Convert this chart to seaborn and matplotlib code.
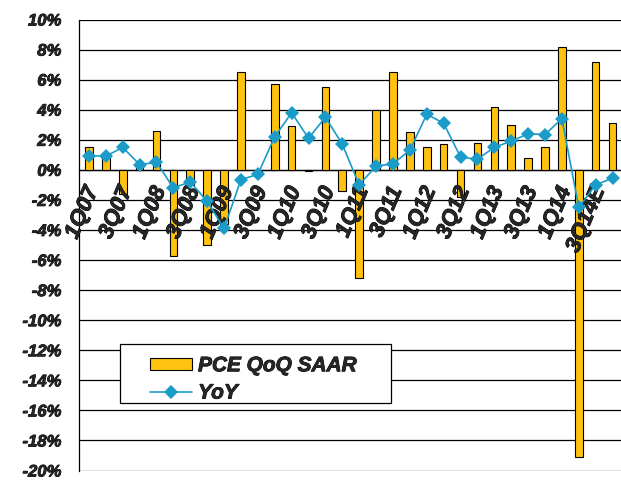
import numpy as np
import pandas as pd
import matplotlib
matplotlib.use('Agg')
import matplotlib.pyplot as plt
import matplotlib.transforms as mtransforms
import matplotlib.patheffects as pe
from matplotlib.patches import Patch, Rectangle
from matplotlib.lines import Line2D
from matplotlib.font_manager import FontProperties
import seaborn as sns

# quarters (only every other one gets a label on the chart)
quarters = ['1Q07', '2Q07', '3Q07', '4Q07', '1Q08', '2Q08', '3Q08', '4Q08',
            '1Q09', '2Q09', '3Q09', '4Q09', '1Q10', '2Q10', '3Q10', '4Q10',
            '1Q11', '2Q11', '3Q11', '4Q11', '1Q12', '2Q12', '3Q12', '4Q12',
            '1Q13', '2Q13', '3Q13', '4Q13', '1Q14', '2Q14', '3Q14E', '4Q14E']

# PCE QoQ SAAR (%)
pce_qoq = [1.5, 1.1, -1.6, 0.4, 2.6, -5.7, -1.0, -5.0,
           -3.6, 6.5, -0.3, 5.7, 2.9, -0.1, 5.5, -1.4,
           -7.2, 4.0, 6.5, 2.5, 1.5, 1.7, -1.8, 1.8,
           4.2, 3.0, 0.8, 1.5, 8.2, -19.1, 7.2, 3.1]

# YoY (%)
yoy = [0.95, 0.9, 1.5, 0.35, 0.5, -1.2, -0.8, -2.1,
       -3.9, -0.65, -0.3, 2.2, 3.8, 2.1, 3.5, 1.7,
       -1.0, 0.25, 0.4, 1.3, 3.7, 3.1, 0.85, 0.7,
       1.5, 1.9, 2.4, 2.35, 3.4, -2.5, -1.0, -0.55]

y_ticks = list(range(-20, 11, 2))

bar_color = '#FFC20E'
line_color = '#1A9BC8'

sns.set_style('white')
plt.rcParams['font.family'] = ['Liberation Sans', 'DejaVu Sans']

def bi(size):
    return FontProperties(family='Liberation Sans', weight='bold',
                          style='italic', size=size)

# slightly heavier strokes on the text, like the original
heavy = [pe.withStroke(linewidth=0.6, foreground='black')]

df = pd.DataFrame({'quarter': quarters, 'pce': pce_qoq, 'yoy': yoy})
df['pos'] = np.arange(len(df))

fig = plt.figure(figsize=(6.21, 4.81), dpi=100)
ax = fig.add_axes([79.3 / 621, 9.5 / 481, 541.7 / 621, 451 / 481])

# bars
sns.barplot(data=df, x='quarter', y='pce', color=bar_color, saturation=1,
            width=0.45, edgecolor='black', linewidth=0.8, ax=ax, zorder=3)

# yoy line
sns.lineplot(data=df, x='pos', y='yoy', color=line_color, linewidth=1.2,
             marker='D', markersize=7.5, markeredgewidth=0,
             ax=ax, zorder=6, sort=False)

ax.set_xlim(-0.57, 31.3)
ax.set_ylim(-20, 10)
ax.set_xlabel('')
ax.set_ylabel('')

# grid
ax.set_yticks(y_ticks)
ax.set_yticklabels([f'{v}%' for v in y_ticks], fontproperties=bi(12))
for t in ax.get_yticklabels():
    t.set_path_effects(heavy)
ax.yaxis.grid(True, color='black', linewidth=0.9)
ax.set_axisbelow(True)
ax.tick_params(axis='y', length=0, pad=13)

# x axis sits on zero
for s in ['top', 'right']:
    ax.spines[s].set_visible(False)
ax.spines['bottom'].set_position(('data', 0))
ax.spines['bottom'].set_color('black')
ax.spines['bottom'].set_linewidth(0.9)
ax.spines['left'].set_color('black')
ax.spines['left'].set_linewidth(0.9)

ax.set_xticks(np.arange(len(quarters)))
ax.set_xticklabels([])
ax.set_xticks(np.arange(len(quarters)) + 0.5, minor=True)
ax.tick_params(axis='x', which='major', length=0)
ax.tick_params(axis='x', which='minor', length=9, width=0.9,
               direction='inout', color='black')

# rotated quarter labels under the zero line
off = mtransforms.ScaledTranslation(-4 / 72, -10 / 72, fig.dpi_scale_trans)
for i, q in enumerate(quarters):
    if i % 2 == 0:
        ax.text(i, 0, q, transform=ax.transData + off, rotation=67,
                rotation_mode='anchor', ha='right', va='top',
                fontproperties=bi(16), zorder=5, path_effects=heavy)

# legend with its own box
ax.add_patch(Rectangle((0.075, 0.1497), 0.5, 0.131, transform=ax.transAxes,
                       facecolor='white', edgecolor='black', linewidth=0.9,
                       zorder=7))
handles = [Patch(facecolor=bar_color, edgecolor='black', linewidth=0.8),
           Line2D([0], [0], color=line_color, linewidth=1.2, marker='D',
                  markersize=7.5, markeredgewidth=0)]
leg = ax.legend(handles, ['PCE QoQ SAAR', 'YoY'], loc='center left',
                bbox_to_anchor=(0.1115, 0.202), frameon=False, borderpad=0,
                handlelength=2.0, handleheight=0.5, handletextpad=0.3,
                labelspacing=0.4, prop=bi(15))
leg.set_zorder(8)
for t in leg.get_texts():
    t.set_path_effects(heavy)

fig.savefig('out.png', dpi=100)
